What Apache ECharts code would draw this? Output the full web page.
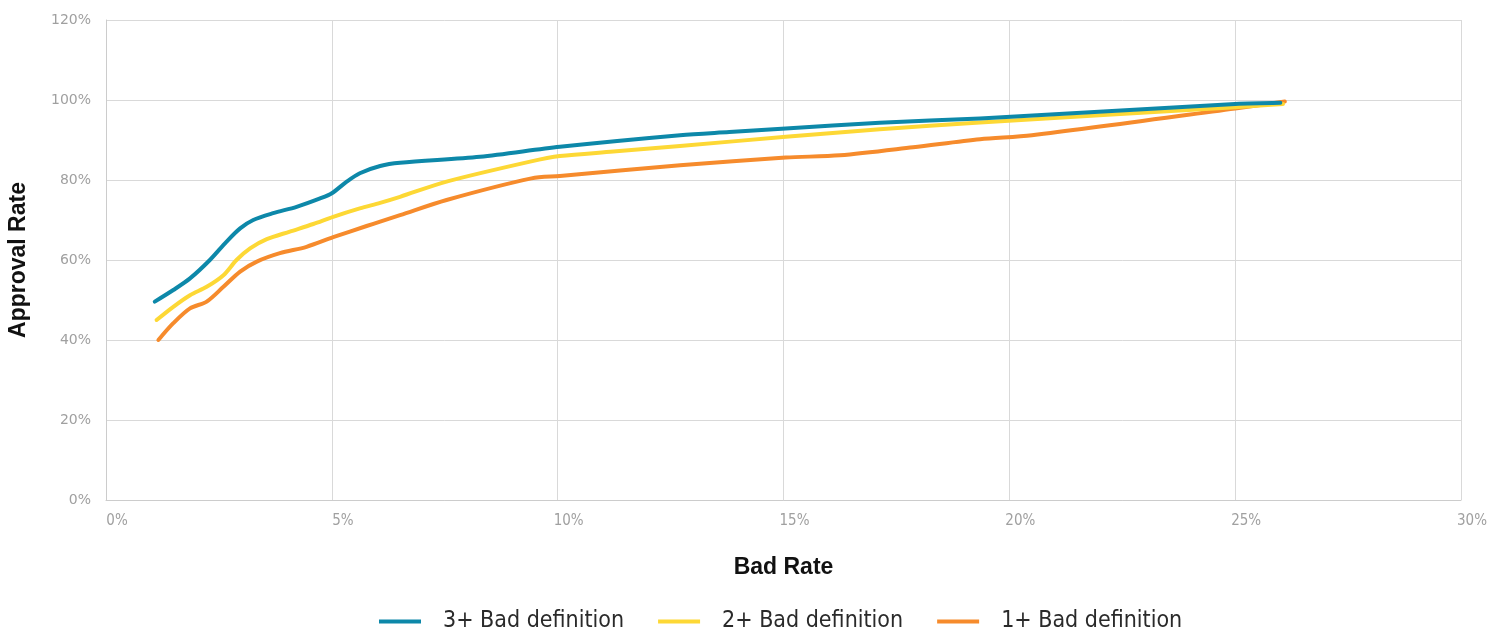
<!DOCTYPE html>
<html>
<head>
<meta charset="utf-8">
<title>Approval Rate vs Bad Rate</title>
<script src="https://cdn.jsdelivr.net/npm/echarts@6/dist/echarts.min.js"></script>
<style>
  html, body { margin: 0; padding: 0; background: #ffffff; }
  #chart { width: 1499px; height: 628px; }
</style>
</head>
<body>
<div id="chart"></div>
<script>
// Bad rate (%) and approval rate (%) for each bad definition
const bad3X = [1.08, 1.49, 1.86, 2.30, 2.67, 2.97, 3.26, 3.70, 4.22, 4.74, 5.00, 5.33, 5.62, 6.07, 6.51, 8.28, 10.05, 12.71, 13.80, 15.05, 17.13, 19.35, 25.00, 26.00];
const bad3Y = [49.6, 52.5, 55.4, 60.0, 64.6, 67.9, 70.0, 71.7, 73.3, 75.4, 76.7, 79.6, 81.7, 83.5, 84.3, 85.8, 88.3, 91.2, 92.0, 92.9, 94.3, 95.4, 99.0, 99.3];

const bad2X = [1.12, 1.49, 1.86, 2.23, 2.60, 2.89, 3.19, 3.56, 4.07, 4.59, 5.03, 5.62, 6.07, 6.51, 7.54, 9.39, 10.05, 11.23, 12.71, 15.05, 17.13, 19.35, 25.00, 26.06];
const bad2Y = [45.0, 48.3, 51.2, 53.3, 56.2, 60.0, 62.9, 65.2, 67.1, 69.0, 70.8, 72.9, 74.3, 75.8, 79.6, 84.6, 86.0, 87.1, 88.5, 90.8, 92.7, 94.4, 98.2, 99.0];

const bad1X = [1.16, 1.49, 1.86, 2.23, 2.60, 2.97, 3.34, 3.85, 4.44, 5.03, 5.77, 6.07, 6.51, 7.54, 9.42, 10.05, 12.71, 15.05, 16.25, 17.87, 19.35, 20.50, 25.00, 26.10];
const bad1Y = [40.0, 44.2, 47.9, 49.6, 53.3, 57.1, 59.6, 61.7, 63.3, 65.7, 68.5, 69.6, 71.2, 75.0, 80.4, 81.0, 83.7, 85.6, 86.2, 88.2, 90.2, 91.2, 97.9, 99.6];

const seriesNames = ['3+ Bad definition', '2+ Bad definition', '1+ Bad definition'];
const seriesColors = ['#0d88a9', '#fdd835', '#f68b2c'];

// x-axis ticks: 0%..30% step 5, y-axis ticks: 0%..120% step 20
const xTicks = { min: 0, max: 30, step: 5 };
const yTicks = { min: 0, max: 120, step: 20 };

function pairs(xs, ys) {
  return xs.map((x, i) => [x, ys[i]]);
}

const chart = echarts.init(document.getElementById('chart'), null, { renderer: 'canvas' });

const gridColor = '#d9d9d9';
const labelColor = '#a0a0a0';

chart.setOption({
  animation: false,
  backgroundColor: '#ffffff',
  grid: { left: 106, right: 38, top: 20, bottom: 128, containLabel: false, outerBoundsMode: 'none' },
  xAxis: {
    type: 'value',
    min: xTicks.min, max: xTicks.max, interval: xTicks.step,
    name: 'Bad Rate',
    nameLocation: 'middle',
    nameGap: 56,
    nameTextStyle: { fontFamily: 'Liberation Sans', fontWeight: 'bold', fontSize: 23, color: '#111111' },
    axisLine: { show: true, lineStyle: { color: '#cccccc', width: 1 } },
    axisTick: { show: false },
    splitLine: { show: true, lineStyle: { color: gridColor, width: 1 } },
    axisLabel: {
      formatter: '{value}%',
      color: labelColor,
      fontFamily: 'DejaVu Sans Condensed',
      fontSize: 15,
      margin: 14,
      padding: [0, 0, 0, 22]
    }
  },
  yAxis: {
    type: 'value',
    min: yTicks.min, max: yTicks.max, interval: yTicks.step,
    name: 'Approval Rate',
    nameLocation: 'middle',
    nameGap: 76,
    nameTextStyle: { fontFamily: 'Liberation Sans', fontWeight: 'bold', fontSize: 23, color: '#111111' },
    axisLine: { show: true, lineStyle: { color: '#cccccc', width: 1 } },
    axisTick: { show: false },
    splitLine: { show: true, lineStyle: { color: gridColor, width: 1 } },
    axisLabel: {
      formatter: '{value}%',
      color: labelColor,
      fontFamily: 'DejaVu Sans',
      fontSize: 14,
      margin: 15
    }
  },
  legend: {
    left: 374,
    top: 605,
    icon: 'rect',
    itemWidth: 42,
    itemHeight: 4,
    itemGap: 34,
    textStyle: {
      fontFamily: 'DejaVu Sans Condensed',
      fontSize: 23,
      color: '#2a2a2a',
      padding: [0, 0, 0, 17]
    },
    data: seriesNames
  },
  series: [
    { x: bad3X, y: bad3Y },
    { x: bad2X, y: bad2Y },
    { x: bad1X, y: bad1Y }
  ].map((s, i) => ({
    name: seriesNames[i],
    type: 'line',
    data: pairs(s.x, s.y),
    smooth: 0.3,
    showSymbol: false,
    symbol: 'none',
    z: 3 - i,
    itemStyle: { color: seriesColors[i] },
    lineStyle: { color: seriesColors[i], width: 4, cap: 'round', join: 'round' }
  }))
});
</script>
</body>
</html>
